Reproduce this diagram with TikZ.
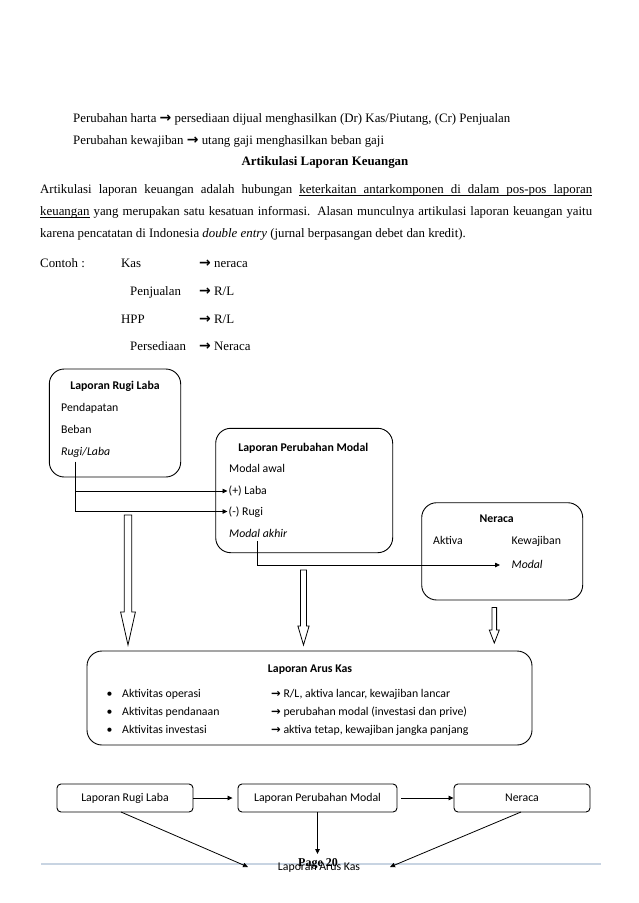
\documentclass[tikz,border=0pt]{standalone}
\usepackage{fontspec}
\setmainfont{Liberation Serif}
\newfontfamily\calfont{Carlito}
\newfontfamily\arrfont{DejaVu Sans}
\usetikzlibrary{arrows.meta}
\newcommand\bodysize{\fontsize{12.87}{22}\selectfont}
\newcommand\boxsize{\fontsize{11.8}{14}\selectfont}
\newcommand\rarrb{{\arrfont\bfseries\fontsize{14}{14}\selectfont →}}
\newcommand\rarrs{{\arrfont\bfseries\fontsize{11.5}{12}\selectfont →}}
\newcommand\ulword[1]{\setbox0\hbox{#1}\rlap{\vrule height -1.7pt depth 2.4pt width\wd0}\box0\relax}
\newcommand\ulsp{\leaders\hrule height -1.7pt depth 2.4pt\hskip\fontdimen2\font plus\fontdimen3\font minus\fontdimen4\font\relax}
\newcommand\hollowarrow[6]{%
  \draw[blockarr] ({#1-#5},#2) -- ({#1+#5},#2) -- ({#1+#5},#3) -- ({#1+#6},#3)
    -- (#1,#4) -- ({#1-#6},#3) -- ({#1-#5},#3) -- cycle;}
\tikzset{
  body/.style={anchor=base west, inner sep=0, font=\bodysize},
  btxt/.style={anchor=base west, inner sep=0, font=\calfont\boxsize},
  btitle/.style={anchor=base, inner sep=0, font=\calfont\boxsize\bfseries},
  rbox/.style={draw, rounded corners=15pt, line width=0.9pt},
  sbox/.style={draw, rounded corners=4pt, line width=0.9pt, font=\calfont\boxsize},
  conn/.style={line width=0.8pt, -{Triangle[length=5pt,width=4.5pt]}},
  plain/.style={line width=0.8pt},
  blockarr/.style={draw, line width=0.8pt, fill=white},
}
\begin{document}
\begin{tikzpicture}[x=1pt,y=-1pt]
\fill[white] (0,0) rectangle (638,903);
\useasboundingbox (0,0) rectangle (638,903);

% ---- body text ----
\node[body] (h1) at (73,122) {Perubahan harta \rarrb{} persediaan dijual menghasilkan (Dr) Kas/Piutang, (Cr) Penjualan};
\node[body] (h2) at (73,144) {Perubahan kewajiban \rarrb{} utang gaji menghasilkan beban gaji};
\node[body, anchor=base, font=\bodysize\bfseries] (ttl) at (325,165) {Artikulasi Laporan Keuangan};
\node[body] (p1) at (40,193) {\makebox[552pt][s]{Artikulasi laporan keuangan adalah hubungan \ulword{keterkaitan}\ulsp\ulword{antarkomponen}\ulsp\ulword{di}\ulsp\ulword{dalam}\ulsp\ulword{pos-pos}\ulsp\ulword{laporan}}};
\node[body] (p2) at (40,215) {\makebox[552pt][s]{\ulword{keuangan} yang merupakan satu kesatuan informasi. Alasan munculnya artikulasi laporan keuangan yaitu}};
\node[body] (p3) at (40,237) {karena pencatatan di Indonesia \textit{double entry} (jurnal berpasangan debet dan kredit).};

\node[body] (c0) at (40,267) {Contoh :};
\node[body] (c1) at (121,267) {Kas};
\node[body] (c1a) at (199,267) {\rarrb{} neraca};
\node[body] (c2) at (130,295) {Penjualan};
\node[body] (c2a) at (199,295) {\rarrb{} R/L};
\node[body] (c3) at (121,323) {HPP};
\node[body] (c3a) at (199,323) {\rarrb{} R/L};
\node[body] (c4) at (130,350) {Persediaan};
\node[body] (c4a) at (199,350) {\rarrb{} Neraca};

% ---- boxes ----
\draw[rbox] (49.3,369) rectangle (180.7,477);
\node[btitle] (rlt) at (115,389) {Laporan Rugi Laba};
\node[btxt] (rl1) at (61,411.5) {Pendapatan};
\node[btxt] (rl2) at (61,433.5) {Beban};
\node[btxt] (rl3) at (61,455.5) {\itshape Rugi/Laba};

\draw[rbox] (215.7,428.3) rectangle (392.7,552.7);
\node[btitle] (lpmt) at (303.3,451) {Laporan Perubahan Modal};
\node[btxt] (lpm1) at (229,472.5) {Modal awal};
\node[btxt] (lpm2) at (228.5,494.5) {(+) Laba};
\node[btxt] (lpm3) at (228.5,515) {(-) Rugi};
\node[btxt] (lpm4) at (229,537) {\itshape Modal akhir};

\draw[rbox] (421.7,502.7) rectangle (582.7,600);
\node[btitle] (nrt) at (496.7,522) {Neraca};
\node[btxt] (nr1) at (433,544) {Aktiva};
\node[btxt] (nr2) at (511.5,544) {Kewajiban};
\node[btxt] (nr3) at (511.5,568) {\itshape Modal};

% connectors
\coordinate (rlsrc) at (75,461.7);
\coordinate (labain) at (227.5,491);
\coordinate (rugiin) at (227.5,511.5);
\draw[plain] (rlsrc) -- (rlsrc |- rugiin);
\draw[conn] (rlsrc |- labain) -- (labain);
\draw[conn] (rlsrc |- rugiin) -- (rugiin);
\coordinate (masrc) at (257.5,541);
\coordinate (nmod) at (500,565);
\draw[conn] (masrc) |- (nmod);

% hollow block arrows
\hollowarrow{128}{515}{612}{645}{3.8}{7.4}
\hollowarrow{303.5}{570}{626}{645}{3}{5.6}
\hollowarrow{494.3}{607.5}{630}{643}{2.3}{5}

% ---- Laporan Arus Kas ----
\draw[rbox] (87,651) rectangle (532,745);
\node[btitle] (lakt) at (310,672) {Laporan Arus Kas};
\node[btxt] (b1) at (106.5,697) {•};
\node[btxt] (b2) at (106.5,715) {•};
\node[btxt] (b3) at (106.5,733) {•};
\node[btxt] (a1) at (122,697) {Aktivitas operasi};
\node[btxt] (a2) at (122,715) {Aktivitas pendanaan};
\node[btxt] (a3) at (122,733) {Aktivitas investasi};
\node[btxt] (r1) at (271,697) {\rarrs{} R/L, aktiva lancar, kewajiban lancar};
\node[btxt] (r2) at (271,715) {\rarrs{} perubahan modal (investasi dan prive)};
\node[btxt] (r3) at (271,733) {\rarrs{} aktiva tetap, kewajiban jangka panjang};

% ---- bottom flow ----
\node[sbox, minimum width=136pt, minimum height=28pt] (f1) at (125,798) {Laporan Rugi Laba};
\node[sbox, minimum width=159pt, minimum height=28pt] (f2) at (317.5,798) {Laporan Perubahan Modal};
\node[sbox, minimum width=136pt, minimum height=28pt] (f3) at (522,798) {Neraca};
\draw[conn] (f1.east) -- ([xshift=-5pt]f2.west);
\draw[conn] ([xshift=4pt]f2.east) -- (f3.west);

% footer
\coordinate (fl) at (41,864);
\coordinate (fr) at (601,864);
\draw[line width=1.3pt, color={rgb,255:red,200;green,212;blue,226}] (fl) -- (fr);
\node[inner sep=0, font=\bfseries\fontsize{12}{14}\selectfont] (pg) at (318,864) {Page 20};
\node[inner sep=0, font=\calfont\boxsize] (lak) at (319,868) {Laporan Arus Kas};

\coordinate (vend) at (317.5,854);
\coordinate (d1s) at (121,812);
\coordinate (d1e) at (248,867);
\coordinate (d2s) at (521,812);
\coordinate (d2e) at (390,867);
\draw[conn] (f2.south) -- (vend);
\draw[conn] (d1s) -- (d1e);
\draw[conn] (d2s) -- (d2e);
\end{tikzpicture}
\end{document}
